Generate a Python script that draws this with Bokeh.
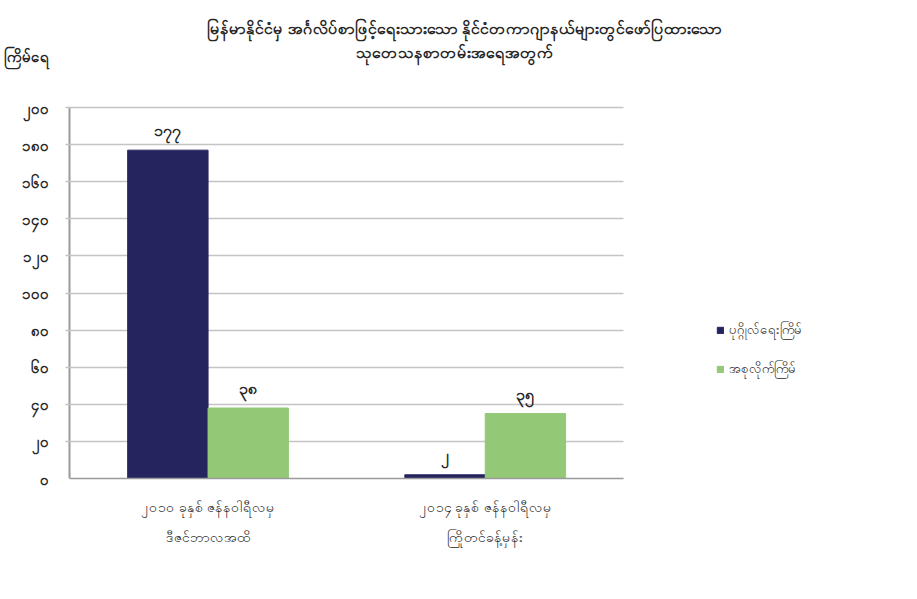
from bokeh.plotting import figure
from bokeh.models import Label, Legend, LegendItem, FixedTicker, ColumnDataSource, Range1d
from bokeh.core.properties import value
from bokeh.embed import file_html
from bokeh.resources import INLINE

title_line1 = "မြန်မာနိုင်ငံမှ အင်္ဂလိပ်စာဖြင့်ရေးသားသော နိုင်ငံတကာဂျာနယ်များတွင်ဖော်ပြထားသော"
title_line2 = "သုတေသနစာတမ်းအရေအတွက်"
y_label = "ကြိမ်ရေ"
categories = ["၂၀၁၀ ခုနှစ် ဇန်နဝါရီလမှ\nဒီဇင်ဘာလအထိ", "၂၀၁၄ ခုနှစ် ဇန်နဝါရီလမှ\nကြိုတင်ခန့်မှန်း"]
series_names = ["ပုဂ္ဂိုလ်ရေးကြိမ်", "အစုလိုက်ကြိမ်"]
series1 = [177, 2]
series2 = [38, 35]
y_ticks = [0, 20, 40, 60, 80, 100, 120, 140, 160, 180, 200]
y_tick_labels = ["၀", "၂၀", "၄၀", "၆၀", "၈၀", "၁၀၀", "၁၂၀", "၁၄၀", "၁၆၀", "၁၈၀", "၂၀၀"]

MY = "0123456789"
BM = "၀၁၂၃၄၅၆၇၈၉"
def burmese(n):
    return "".join(BM[MY.index(c)] for c in str(n))

FONT = "Noto Sans"
TXT = "#262626"
GRID = "#c4c4c4"
AXIS = "#9a9a9a"
colors = ["#25245f", "#93c877"]

# target: data x 0..2 -> px 65..622, data y 0..200 -> px 478..107
W, H = 901, 583
ML, MR, MT, MB = 60, 5, 3, 105
frame_w = W - ML - MR
frame_h = H - MT - MB
ppx = 557 / 2.0
x_start = -(65 - ML) / ppx
x_end = x_start + frame_w / ppx
y_end = 200 * frame_h / 371.0
ylab_pos = 200 * (478 - 55) / 371.0
tick_len = 4 / ppx

p = figure(width=W, height=H, output_backend="svg", toolbar_location=None,
           x_range=Range1d(x_start, x_end), y_range=Range1d(0, y_end),
           min_border_left=ML, min_border_right=MR, min_border_top=MT, min_border_bottom=MB)
p.outline_line_color = None
p.background_fill_color = "white"
p.border_fill_color = "white"

centers = [0.5 + i for i in range(len(categories))]
w = 0.29
src1 = ColumnDataSource(dict(x=[c - w / 2 for c in centers], top=series1,
                             lab=[burmese(v) for v in series1]))
src2 = ColumnDataSource(dict(x=[c + w / 2 for c in centers], top=series2,
                             lab=[burmese(v) for v in series2]))
r1 = p.vbar(x="x", top="top", width=w, source=src1, fill_color=colors[0], line_color=colors[0])
r2 = p.vbar(x="x", top="top", width=w, source=src2, fill_color=colors[1], line_color=colors[1])
for s in (src1, src2):
    p.text(x="x", y="top", text="lab", source=s, text_align="center", text_baseline="bottom",
           y_offset=-9, text_font=value(FONT), text_font_size="16px",
           text_font_style="bold", text_color=TXT)

# x axis
p.xaxis.bounds = (0, 2)
p.xaxis.ticker = FixedTicker(ticks=centers)
p.xaxis.major_label_overrides = {c: lab for c, lab in zip(centers, categories)}
p.xaxis.major_label_text_font = FONT
p.xaxis.major_label_text_font_size = "14px"
p.xaxis.major_label_text_line_height = 1.6
p.xaxis.major_label_text_color = TXT
p.xaxis.major_tick_line_color = None
p.xaxis.minor_tick_line_color = None
p.xaxis.axis_line_color = AXIS
p.xaxis.axis_line_width = 1.5
p.xaxis.major_label_standoff = 12

# y axis labels (axis line drawn by a grid line at x=0 limited to 0..200)
p.yaxis.ticker = FixedTicker(ticks=y_ticks + [ylab_pos])
overrides = {t: l for t, l in zip(y_ticks, y_tick_labels)}
overrides[ylab_pos] = y_label
p.yaxis.major_label_overrides = overrides
p.yaxis.major_label_text_font = FONT
p.yaxis.major_label_text_font_size = "15px"
p.yaxis.major_label_text_font_style = "bold"
p.yaxis.major_label_text_color = TXT
p.yaxis.axis_line_color = None
p.yaxis.major_tick_line_color = None
p.yaxis.minor_tick_line_color = None
p.yaxis.major_label_standoff = 10

p.ygrid.ticker = FixedTicker(ticks=y_ticks)
p.ygrid.grid_line_color = GRID
p.ygrid.grid_line_width = 1.5
p.ygrid.cross_bounds = (-tick_len, 2)
p.xgrid.ticker = FixedTicker(ticks=[0])
p.xgrid.grid_line_color = AXIS
p.xgrid.grid_line_width = 2
p.xgrid.cross_bounds = (0, 200)

# titles (screen units relative to frame's bottom-left)
p.add_layout(Label(x=460 - ML, y=478 - 27, x_units="screen", y_units="screen", text=title_line1,
                   text_font=FONT, text_font_size="16px", text_font_style="bold",
                   text_color=TXT, text_align="center", text_baseline="middle"))
p.add_layout(Label(x=450 - ML, y=478 - 51, x_units="screen", y_units="screen", text=title_line2,
                   text_font=FONT, text_font_size="16px", text_font_style="bold",
                   text_color=TXT, text_align="center", text_baseline="middle"))

legend = Legend(items=[LegendItem(label=series_names[0], renderers=[r1]),
                       LegendItem(label=series_names[1], renderers=[r2])],
                location=(712 - ML, 99), border_line_color=None, background_fill_alpha=0,
                padding=0, margin=0,
                label_text_font=FONT, label_text_font_size="13px", label_text_color=TXT,
                glyph_width=8, glyph_height=8, spacing=19)
p.add_layout(legend)

open("out.html", "w").write(file_html(p, INLINE))
